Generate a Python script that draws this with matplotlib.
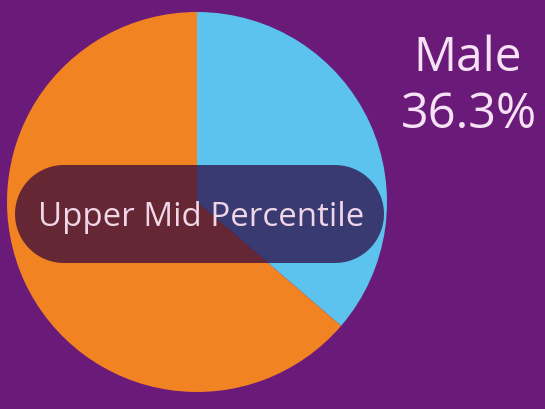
import matplotlib
matplotlib.use("Agg")
import numpy as np
import matplotlib.pyplot as plt
from matplotlib.patches import Polygon

labels = ["Male", "Female"]
values = [36.3, 63.7]
colors = ["#5BC3EE", "#F28322"]
center_label = "Upper Mid Percentile"

BG = "#6A1B7A"
W, H = 545, 410

fig = plt.figure(figsize=(W / 100, H / 100), dpi=100, facecolor=BG)
ax = fig.add_axes([0, 0, 1, 1])
ax.set_facecolor(BG)

ax.pie(values, colors=colors, startangle=90, counterclock=False,
       center=(197, H - 203), radius=190,
       wedgeprops=dict(linewidth=0, antialiased=True))
ax.set_xlim(0, W)
ax.set_ylim(0, H)
ax.set_aspect("equal")
ax.axis("off")

# pill overlay (semicircular ends)
x0, x1, yb, yt = 15, 384, H - 264, H - 166
r = (yt - yb) / 2
yc = (yt + yb) / 2
t_r = np.linspace(-np.pi / 2, np.pi / 2, 60)
t_l = np.linspace(np.pi / 2, 3 * np.pi / 2, 60)
xs = np.concatenate([x1 - r + r * np.cos(t_r), x0 + r + r * np.cos(t_l)])
ys = np.concatenate([yc + r * np.sin(t_r), yc + r * np.sin(t_l)])
pill = Polygon(np.column_stack([xs, ys]), closed=True,
               facecolor=(43 / 255, 0, 62 / 255), alpha=0.7,
               edgecolor="none", zorder=3)
ax.add_patch(pill)
ax.text(201, H - 226, center_label, ha="center", va="baseline",
        fontsize=23.8, color="#F0D6E6", family=["Open Sans", "DejaVu Sans"],
        zorder=4)

male_pct = f"{values[0]:.1f}%"
ax.text(468, H - 71, labels[0], ha="center", va="baseline", fontsize=34.5,
        color="#F6E2F4", family=["Open Sans", "DejaVu Sans"], zorder=4)
ax.text(469, H - 128, male_pct, ha="center", va="baseline", fontsize=35,
        color="#F6E2F4", family=["Open Sans", "DejaVu Sans"], zorder=4)

fig.savefig("out.png", dpi=100, facecolor=BG)
